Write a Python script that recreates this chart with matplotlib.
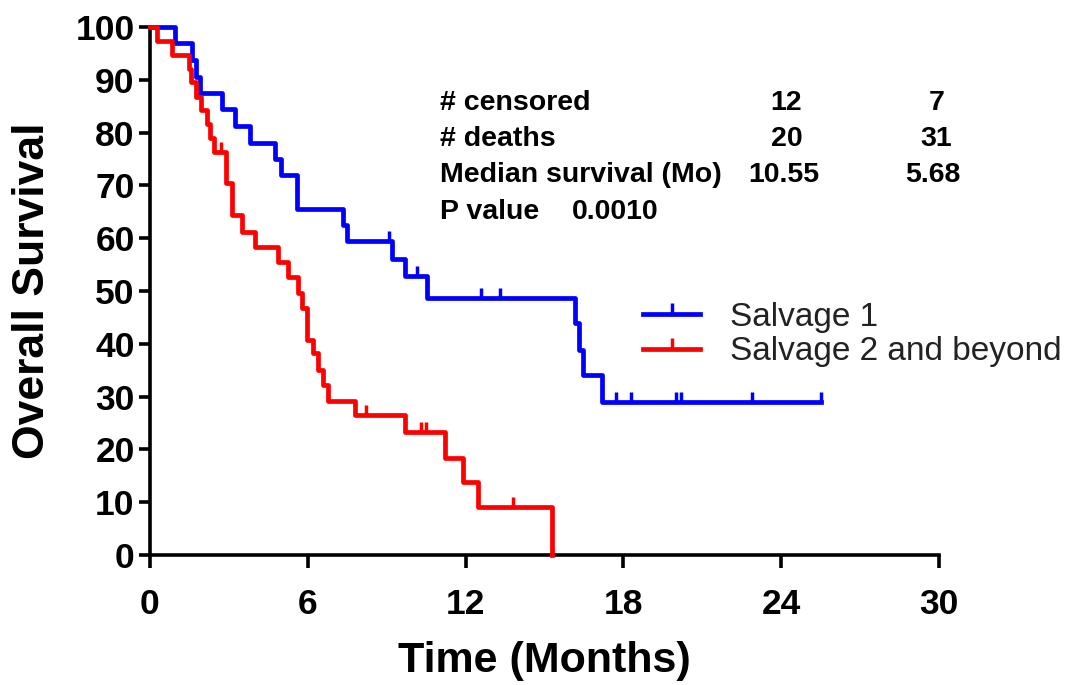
import matplotlib.pyplot as plt
from matplotlib.lines import Line2D

plt.rcParams['font.family'] = ['Liberation Sans', 'DejaVu Sans']

# Salvage 1 (blue) step curve, months / % surviving
t1 = [0, 0.95, 1.6, 1.75, 1.9, 2.74, 3.23, 3.8, 4.75, 5.0, 5.6, 7.35, 7.5,
      9.2, 9.7, 10.55, 16.15, 16.3, 16.45, 17.2, 25.5]
s1 = [100, 96.9, 93.8, 90.6, 87.5, 84.4, 81.3, 78.1, 75.0, 71.9, 65.6, 62.5, 59.4,
      56.1, 52.8, 48.7, 43.9, 38.8, 34.1, 29.0, 29.0]
c1_t = [9.1, 10.15, 12.6, 13.3, 17.7, 18.3, 20.0, 20.2, 22.9, 25.5]
c1_s = [59.4, 52.8, 48.7, 48.7, 29.0, 29.0, 29.0, 29.0, 29.0, 29.0]

# Salvage 2 and beyond (red)
t2 = [0, 0.25, 0.85, 1.5, 1.55, 1.75, 1.95, 2.15, 2.3, 2.45, 2.9, 3.1, 3.5, 4.0,
      4.87, 5.25, 5.63, 5.78, 5.97, 6.2, 6.39, 6.58, 6.77, 7.8, 9.7, 11.2, 11.9,
      12.47, 15.3, 15.3]
s2 = [100, 97.4, 94.7, 92.1, 89.5, 86.8, 84.2, 81.6, 78.9, 76.3, 70.5, 64.4, 61.2, 58.3,
      55.5, 52.6, 49.6, 46.8, 40.7, 38.3, 35.0, 32.2, 29.2, 26.5, 23.3, 18.4, 13.8,
      9.1, 9.1, 0]
c2_t = [2.7, 8.2, 10.3, 10.5, 13.8]
c2_s = [76.3, 26.5, 23.3, 23.3, 9.1]

stats_rows = ['# censored', '# deaths', 'Median survival (Mo)', 'P value']
col1 = ['12', '20', '10.55']
col2 = ['7', '31', '5.68']
pval = '0.0010'

fig = plt.figure(figsize=(10.69, 6.85), dpi=100)
ax = fig.add_axes([0.1403, 0.1898, 0.7381, 0.7708])

lw = 3.4
ax.step(t1, s1, where='post', color='#0000ff', lw=lw, clip_on=False, zorder=3)
ax.step(t2, s2, where='post', color='#ff0000', lw=lw, clip_on=False, zorder=3)
ax.plot(c1_t, c1_s, ls='none', marker=2, ms=7, mew=2.5, color='#0000ff', clip_on=False, zorder=3)
ax.plot(c2_t, c2_s, ls='none', marker=2, ms=7, mew=2.5, color='#ff0000', clip_on=False, zorder=3)

ax.set_xlim(0, 30)
ax.set_ylim(0, 100)
ax.set_xticks(range(0, 31, 6))
ax.set_yticks(range(0, 101, 10))
for s in ['top', 'right']:
    ax.spines[s].set_visible(False)
for s in ['left', 'bottom']:
    ax.spines[s].set_linewidth(2.6)
ax.tick_params(axis='both', width=2.6, length=8, labelsize=25.5, pad=3)
ax.tick_params(axis='x', length=9, pad=15)
for lab in ax.get_xticklabels() + ax.get_yticklabels():
    lab.set_fontweight('bold')
ax.set_xlabel('Time (Months)', fontsize=31, fontweight='bold', labelpad=14)
ax.set_ylabel('Overall Survival', fontsize=32, fontweight='bold', labelpad=16)

# stats text block
fs = 20.5
ys = [85.6, 78.8, 72.0, 65.0]
for lab, y in zip(stats_rows, ys):
    ax.text(11.02, y, lab, fontsize=fs, fontweight='bold', va='center', ha='left')
for a, y in zip(col1[:2], ys[:2]):
    ax.text(24.2, y, a, fontsize=fs, fontweight='bold', va='center', ha='center')
for b, y in zip(col2[:2], ys[:2]):
    ax.text(29.9, y, b, fontsize=fs, fontweight='bold', va='center', ha='center')
ax.text(22.75, ys[2], col1[2], fontsize=fs, fontweight='bold', va='center', ha='left')
ax.text(28.7, ys[2], col2[2], fontsize=fs, fontweight='bold', va='center', ha='left')
ax.text(16.05, ys[3], pval, fontsize=fs, fontweight='bold', va='center', ha='left')

handles = [Line2D([], [], color='#0000ff', lw=lw, marker=2, ms=8, mew=2.5),
           Line2D([], [], color='#ff0000', lw=lw, marker=2, ms=8, mew=2.5)]
leg = ax.legend(handles, ['Salvage 1', 'Salvage 2 and beyond'], loc='upper left',
                bbox_to_anchor=(0.587, 0.536), frameon=False, fontsize=24,
                handlelength=1.71, handletextpad=0.9, labelspacing=0.1, numpoints=1)
for t in leg.get_texts():
    t.set_color('#222222')

fig.savefig('out.png', dpi=100)
